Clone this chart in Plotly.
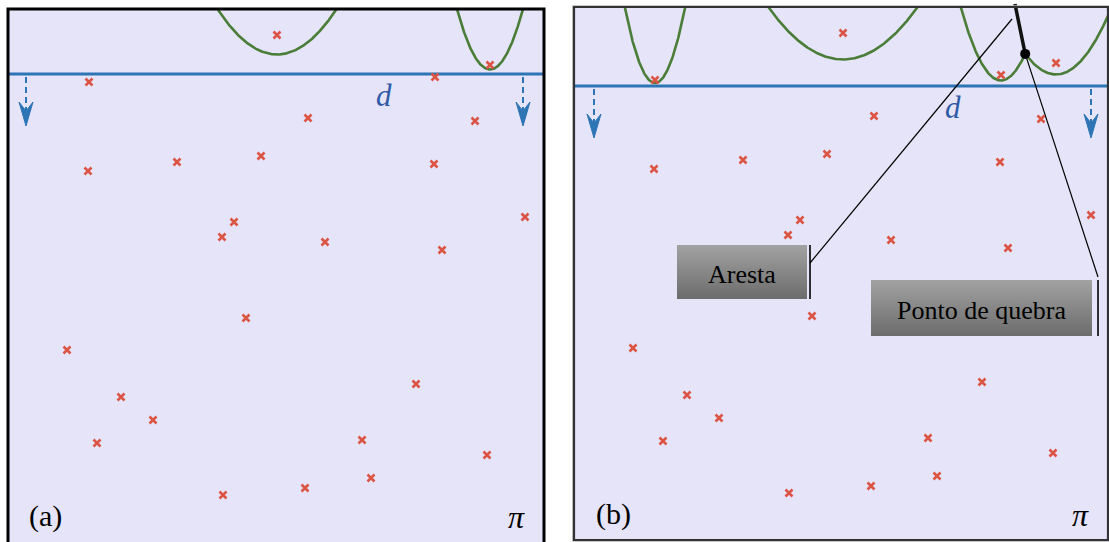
import numpy as np
import plotly.graph_objects as go

# ---------------- data (panel-relative pixel units, y grows downward) ----------------
site_x = [269, 482, 81, 427, 300, 467, 80, 169, 253, 426, 517, 226, 214,
          317, 434, 238, 59, 408, 113, 145, 89, 354, 479, 363, 215, 297]
site_y = [26, 56, 73, 68, 109, 112, 162, 153, 147, 155, 208, 213, 228,
          233, 241, 309, 341, 375, 388, 411, 434, 431, 446, 469, 486, 479]

panel_names = ["(a)", "(b)"]
panel_width = [536, 534]
panel_height = [533, 533]
sweep_line_y = [65, 79]          # position of the sweep line d
arrow_x = [[18, 515], [20, 517]]  # dashed arrows showing sweep direction
arrow_len = 52

label_text = ["Aresta", "Ponto de quebra"]
label_x0 = [103, 297]
label_x1 = [233, 518]
label_y0 = [238, 273]
label_y1 = [292, 329]
bracket_x = [236, 524]
leader_end_y = [256, 270]
aresta_target = (438, 12)
break_sites = (3, 1)  # indices of the two sites whose breakpoint is annotated

# ---------------- styling ----------------
BG = "#e5e4f8"
BLUE = "#2e75b6"
GREEN = "#4a7d37"
RED = "#dc5444"
DCOL = "#2f5ba6"

fig = go.Figure()

pad = 4
W, H = 1109, 542
ax_px = [(8, 9), (574, 7)]  # top-left px of each panel
axes = []
for i in range(2):
    x0px, y0px = ax_px[i]
    xl = x0px - pad
    xr = min(W, x0px + panel_width[i] + pad)
    yt = y0px - pad
    yb = H
    xname = "xaxis" if i == 0 else "xaxis2"
    yname = "yaxis" if i == 0 else "yaxis2"
    fig.layout[xname] = dict(domain=[xl / W, xr / W], range=[xl - x0px, xr - x0px],
                             visible=False, fixedrange=True)
    fig.layout[yname] = dict(domain=[(H - yb) / H, (H - yt) / H], range=[yb - y0px, yt - y0px],
                             visible=False, fixedrange=True)
    axes.append(("x" if i == 0 else "x2", "y" if i == 0 else "y2"))

sx = np.array(site_x, float)
sy = np.array(site_y, float)


def parab(x, px, py, L):
    return (L + py) / 2 - (x - px) ** 2 / (2 * (L - py))


shapes = []
annotations = []
for i in range(2):
    xa, ya = axes[i]
    Wp, Hp = panel_width[i], panel_height[i]
    L = sweep_line_y[i]
    shapes.append(dict(type="rect", xref=xa, yref=ya, x0=0, x1=Wp, y0=0, y1=Hp + (10 if i == 0 else 0),
                       fillcolor=BG, line=dict(width=0), layer="below"))
    xs = np.linspace(0, Wp, 2400)
    above = sy < L
    ys = np.full_like(xs, -np.inf)
    for px, py in zip(sx[above], sy[above]):
        ys = np.maximum(ys, parab(xs, px, py, L))
    ys = np.where(ys < 0, np.nan, ys)
    fig.add_trace(go.Scatter(x=xs, y=ys, mode="lines", xaxis=xa, yaxis=ya,
                             line=dict(color=GREEN, width=2.6), hoverinfo="skip", showlegend=False))
    fig.add_trace(go.Scatter(x=[0, Wp], y=[L, L], mode="lines", xaxis=xa, yaxis=ya,
                             line=dict(color=BLUE, width=3), hoverinfo="skip", showlegend=False))
    for axx in arrow_x[i]:
        tip = L + arrow_len
        fig.add_trace(go.Scatter(x=[axx, axx], y=[L + 3, tip - 14], mode="lines", xaxis=xa, yaxis=ya,
                                 line=dict(color=BLUE, width=2, dash="6px,4px"),
                                 hoverinfo="skip", showlegend=False))
        fig.add_trace(go.Scatter(x=[axx, axx - 7, axx, axx + 7, axx],
                                 y=[tip, tip - 24, tip - 15, tip - 24, tip],
                                 mode="lines", fill="toself", fillcolor=BLUE, xaxis=xa, yaxis=ya,
                                 line=dict(color=BLUE, width=1), hoverinfo="skip", showlegend=False))
    fig.add_trace(go.Scatter(x=sx, y=sy, mode="markers", xaxis=xa, yaxis=ya,
                             marker=dict(symbol="x-thin", size=7, line=dict(color=RED, width=2.6)),
                             hoverinfo="skip", showlegend=False))
    annotations.append(dict(xref=xa, yref=ya, x=376 + 3 * i, y=L + 21, text="<i>d</i>", showarrow=False,
                            font=dict(family="Liberation Serif", size=31, color=DCOL)))
    annotations.append(dict(xref=xa, yref=ya, x=Wp - 28, y=Hp - 25, text="<i>π</i>", showarrow=False,
                            font=dict(family="Liberation Serif", size=32, color="black")))
    annotations.append(dict(xref=xa, yref=ya, x=37 + 2 * i, y=Hp - 26, text=panel_names[i], showarrow=False,
                            font=dict(family="Liberation Serif", size=30, color="black")))

# ---- panel (b) extras ----
xa, ya = axes[1]
L = sweep_line_y[1]
i1, i2 = break_sites
xx = np.linspace(min(sx[i1], sx[i2]), max(sx[i1], sx[i2]), 20001)
diff = parab(xx, sx[i1], sy[i1], L) - parab(xx, sx[i2], sy[i2], L)
k = np.argmin(np.abs(diff))
bx = xx[k]
by = parab(bx, sx[i1], sy[i1], L)
ddx, ddy = sx[i2] - sx[i1], sy[i2] - sy[i1]
vx, vy = ddy, -ddx
if vy > 0:
    vx, vy = -vx, -vy
t = -by / vy
ex, ey = bx + vx * t, by + vy * t
fig.add_trace(go.Scatter(x=[bx, ex], y=[by, ey - 3], mode="lines", xaxis=xa, yaxis=ya,
                         line=dict(color="#111111", width=3.5), hoverinfo="skip", showlegend=False))

fig.add_trace(go.Scatter(x=[bracket_x[0], aresta_target[0]], y=[leader_end_y[0], aresta_target[1]],
                         mode="lines", xaxis=xa, yaxis=ya, line=dict(color="black", width=1.2),
                         hoverinfo="skip", showlegend=False))
fig.add_trace(go.Scatter(x=[bx, bracket_x[1]], y=[by, leader_end_y[1]],
                         mode="lines", xaxis=xa, yaxis=ya, line=dict(color="black", width=1.2),
                         hoverinfo="skip", showlegend=False))
fig.add_trace(go.Scatter(x=[bx], y=[by], mode="markers", xaxis=xa, yaxis=ya,
                         marker=dict(symbol="circle", size=10, color="black"),
                         hoverinfo="skip", showlegend=False))

for j in range(2):
    x0, x1, y0, y1 = label_x0[j], label_x1[j], label_y0[j], label_y1[j]
    fig.add_trace(go.Scatter(x=[x0, x1, x1, x0, x0], y=[y0, y0, y1, y1, y0], mode="lines",
                             fill="toself", xaxis=xa, yaxis=ya,
                             fillgradient=dict(type="vertical", start=y0, stop=y1,
                                               colorscale=[[0, "#a2a2a2"], [1, "#6c6c6c"]]),
                             line=dict(width=0, color="rgba(0,0,0,0)"),
                             hoverinfo="skip", showlegend=False))
    fig.add_trace(go.Scatter(x=[bracket_x[j], bracket_x[j]], y=[y0, y1], mode="lines",
                             xaxis=xa, yaxis=ya, line=dict(color="black", width=1.6),
                             hoverinfo="skip", showlegend=False))
    annotations.append(dict(xref=xa, yref=ya, x=(x0 + x1) / 2, y=(y0 + y1) / 2 + 2, text=label_text[j],
                            showarrow=False, font=dict(family="Liberation Serif", size=26, color="black")))

xa0, ya0 = axes[0]
shapes.append(dict(type="path", xref=xa0, yref=ya0,
                   path=f"M 0 {panel_height[0] + 10} L 0 0 L {panel_width[0]} 0 L {panel_width[0]} {panel_height[0] + 10}",
                   line=dict(color="black", width=3), layer="above"))
shapes.append(dict(type="rect", xref=xa, yref=ya, x0=-1, x1=panel_width[1] + 1, y0=-1,
                   y1=panel_height[1] + 1, line=dict(color="#b8b8b8", width=1.5), layer="above"))
shapes.append(dict(type="rect", xref=xa, yref=ya, x0=0, x1=panel_width[1], y0=0,
                   y1=panel_height[1], line=dict(color="#333333", width=2.2), layer="above"))

fig.update_layout(width=W, height=H, margin=dict(l=0, r=0, t=0, b=0),
                  paper_bgcolor="white", plot_bgcolor="rgba(0,0,0,0)",
                  shapes=shapes, annotations=annotations, showlegend=False, hovermode=False)
fig.write_html("out.html", config={"displayModeBar": False, "staticPlot": True},
               post_script="document.body.style.margin='0';document.body.style.overflow='hidden';")
